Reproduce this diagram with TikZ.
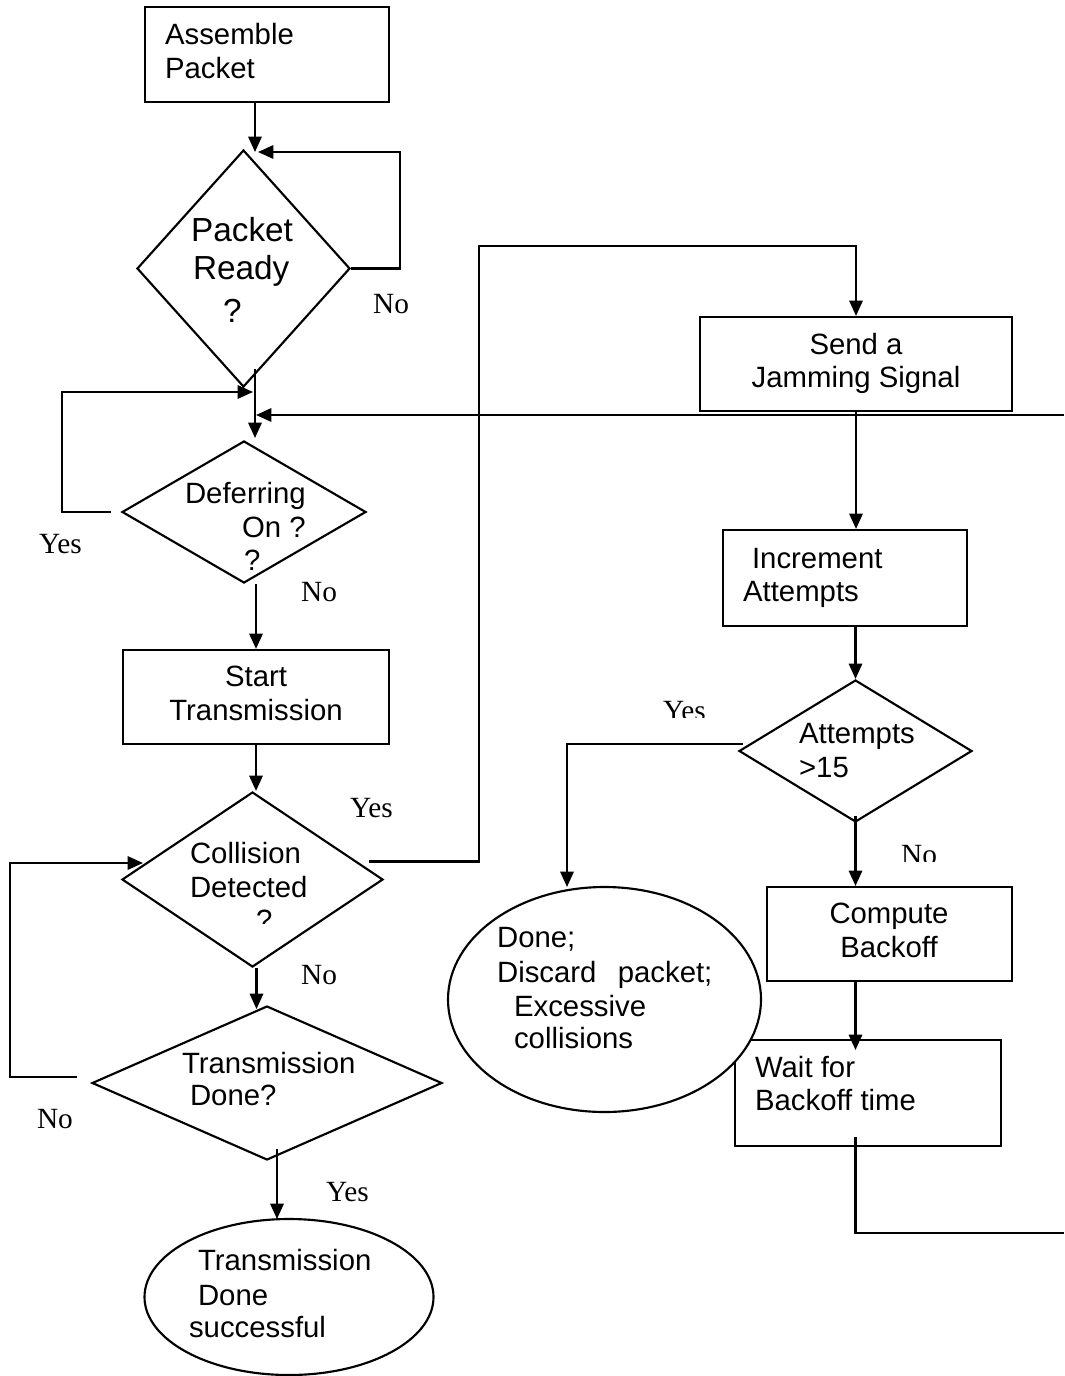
\documentclass[tikz,border=0pt]{standalone}
\usepackage{fontspec}
\newfontfamily\lsans{Liberation Sans}
\newfontfamily\lserif{Liberation Serif}
\usetikzlibrary{shapes.geometric,arrows.meta}
\def\pxu{0.75pt}
\begin{document}
\begin{tikzpicture}[x=0.75pt,y=-0.75pt,line width=1.6pt,
  arr/.style={-{Triangle[length=11.5pt,width=10pt]}},
  box/.style={draw,rectangle,inner sep=0pt},
  dia/.style={draw,diamond,inner sep=0pt},
  oval/.style={draw,ellipse,inner sep=0pt,fill=white},
  txt/.style={inner sep=0pt,anchor=base west,font=\lsans\fontsize{22}{26}\selectfont},
  ctxt/.style={txt,anchor=base},
  bigtxt/.style={txt,font=\lsans\fontsize{25}{30}\selectfont},
  lab/.style={inner sep=0pt,anchor=base west,font=\lserif\fontsize{22}{26}\selectfont}]
\fill[white] (0,0) rectangle (1064,1376);
\useasboundingbox (0,0) rectangle (1064,1376);

% ---- shapes ----
\node[box,minimum width=244*\pxu,minimum height=95*\pxu] (assemble) at (267,54.5) {};
\node[dia,minimum width=213*\pxu,minimum height=237*\pxu] (pr) at (243.5,268.5) {};
\node[dia,minimum width=244*\pxu,minimum height=142*\pxu] (def) at (244,512) {};
\node[box,minimum width=266*\pxu,minimum height=94*\pxu] (start) at (256,697) {};
\node[dia,minimum width=261*\pxu,minimum height=175*\pxu] (col) at (252.5,879.5) {};
\node[dia,minimum width=350*\pxu,minimum height=154*\pxu] (td) at (267,1083) {};
\node[oval,minimum width=289*\pxu,minimum height=156*\pxu] (fin) at (289,1297) {};
\node[box,minimum width=312*\pxu,minimum height=94*\pxu] (send) at (856,364) {};
\node[box,minimum width=244*\pxu,minimum height=96*\pxu] (inc) at (845,578) {};
\node[dia,minimum width=233*\pxu,minimum height=142*\pxu] (att) at (855.5,751) {};
\node[box,minimum width=245*\pxu,minimum height=94*\pxu] (comp) at (889.5,934) {};
\node[box,minimum width=266*\pxu,minimum height=106*\pxu] (wait) at (868,1093) {};
\node[oval,minimum width=313*\pxu,minimum height=225*\pxu] (done) at (604.5,999.5) {};

% ---- connector end points ----
\coordinate (prIn) at (255,152);
\coordinate (prLoopIn) at (258,152);
\coordinate (defIn) at (255,438);
\coordinate (mergeL) at (253,392);
\coordinate (mergeR) at (256,415);
\coordinate (rightTop) at (1064,415);
\coordinate (rightBot) at (1064,1233);
\coordinate (jamTop) at (856,246);
\coordinate (colIn) at (143,863);
\coordinate (finIn) at (277,1219);
\coordinate (doneIn) at (567,887);
\coordinate (waitIn) at (855.5,1050);

% ---- connectors ----
\draw[arr] (assemble.south -| prIn) -- (prIn);
\draw[arr] (pr.east) -- ++(49,0) |- (prLoopIn);
\draw[arr] (defIn |- pr.south) ++(0,-19) -- (defIn);
\draw[arr] (def.west) ++(-10,0) -- ++(-49,0) |- (mergeL);
\draw[arr] (rightTop) -- (mergeR);
\draw[arr] (start.north |- def.south) -- (start.north);
\draw[arr] (start.south) -- (start.south |- col.north);
\draw[arr] (col.east) ++(-15,-18) -- ++(110,0) |- (jamTop) -- (send.north);
\draw[arr] (col.south) ++(4,0) -- ++(0,41);
\draw[arr] (td.west) ++(-14,-6) -- ++(-67,0) |- (colIn);
\draw[arr] (finIn |- td.south) ++(0,-12) -- (finIn);
\draw[arr] (send.south) -- (send.south |- inc.north);
\draw[arr] (inc.south -| att.north) -- (att.north);
\draw[arr] (att.west) ++(5,-7) -| (doneIn);
\draw[arr] (att.south) ++(0,-7) -- (att.south |- comp.north);
\draw[arr] (comp.south -| waitIn) -- (waitIn);
\draw (waitIn |- wait.south) ++(0,-10) |- (rightBot);

% ---- texts ----
\node[txt] (tAs1) at (164,45) {Assemble};
\node[txt] (tAs2) at (164,79) {Packet};
\node[bigtxt] (tPr1) at (190,242) {Packet};
\node[bigtxt] (tPr2) at (192,280) {Ready};
\node[bigtxt] (tPr3) at (222,322) {?};
\node[txt] (tDf1) at (184,503) {Deferring};
\node[txt] (tDf2) at (241,537) {On ?};
\node[txt] (tDf3) at (243,570) {?};
\node[ctxt] (tSt1) at (256,686) {Start};
\node[ctxt] (tSt2) at (256,720) {Transmission};
\node[txt] (tCo1) at (189,863) {Collision};
\node[txt] (tCo2) at (189,897) {Detected};
\begin{scope}
  \clip (235,900) rectangle (285,923);
  \node[txt] (tCo3) at (255,930) {?};
\end{scope}
\node[txt] (tTd1) at (181,1073) {Transmission};
\node[txt] (tTd2) at (189,1105) {Done?};
\node[txt] (tFi1) at (197,1270) {Transmission};
\node[txt] (tFi2) at (197,1305) {Done};
\node[txt] (tFi3) at (188,1337) {successful};
\node[ctxt] (tSe1) at (856,354) {Send a};
\node[ctxt] (tSe2) at (856,387) {Jamming Signal};
\node[txt] (tIn1) at (751,568) {Increment};
\node[txt] (tIn2) at (742,601) {Attempts};
\node[txt] (tAt1) at (798,743) {Attempts};
\node[txt] (tAt2) at (798,777) {>15};
\node[ctxt] (tCm1) at (889,923) {Compute};
\node[ctxt] (tCm2) at (889,957) {Backoff};
\node[txt] (tWa1) at (754,1077) {Wait for};
\node[txt] (tWa2) at (754,1110) {Backoff time};
\node[txt] (tDo1) at (496,947) {Done;};
\node[txt] (tDo2) at (496,982) {Discard\hspace{16pt}packet;};
\node[txt] (tDo3) at (513,1016) {Excessive};
\node[txt] (tDo4) at (513,1048) {collisions};

% ---- branch labels ----
\node[lab] (lPrNo) at (372,313) {No};
\node[lab] (lDfYes) at (38,553) {Yes};
\node[lab] (lDfNo) at (300,601) {No};
\node[lab] (lCoYes) at (349,817) {Yes};
\node[lab] (lCoNo) at (300,984) {No};
\node[lab] (lTdNo) at (36,1128) {No};
\node[lab] (lTdYes) at (325,1201) {Yes};
\begin{scope}
  \clip (640,690) rectangle (730,717);
  \node[lab] (lAtYes) at (662,720) {Yes};
\end{scope}
\begin{scope}
  \clip (890,830) rectangle (960,861);
  \node[lab] (lAtNo) at (900,864) {No};
\end{scope}
\end{tikzpicture}
\end{document}
